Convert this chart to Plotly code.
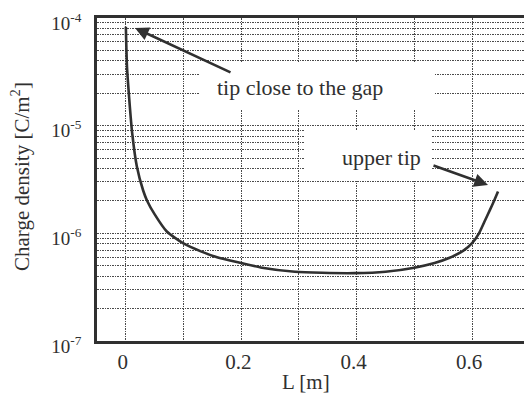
import plotly.graph_objects as go

# Surface charge density along the rod (log scale)
L_m = [0.000, 0.002, 0.006, 0.011, 0.019, 0.030, 0.037, 0.050, 0.071, 0.099,
       0.130, 0.158, 0.200, 0.236, 0.293, 0.340, 0.397, 0.450, 0.500, 0.535,
       0.560, 0.585, 0.600, 0.612, 0.622, 0.631, 0.638, 0.645]
charge = [8.3e-5, 3.5e-5, 1.74e-5, 8.5e-6, 4.2e-6, 2.5e-6, 2.0e-6, 1.5e-6, 1.04e-6, 8.1e-7,
          6.8e-7, 6.0e-7, 5.3e-7, 4.8e-7, 4.4e-7, 4.3e-7, 4.27e-7, 4.4e-7, 4.8e-7, 5.3e-7,
          5.9e-7, 6.9e-7, 8.1e-7, 1.0e-6, 1.3e-6, 1.65e-6, 2.0e-6, 2.45e-6]

x_ticks = [0, 0.2, 0.4, 0.6]
x_ticktext = ["0", "0.2", "0.4", "0.6"]
x_minor = [0.1, 0.3, 0.5]
y_exponents = [-7, -6, -5, -4]

FONT = "Liberation Serif, Times New Roman, serif"
INK = "#303030"
GRID = "#4a4a4a"

W, H = 524, 395
ML, MR, MT, MB = 97, 0, 18, 54
PW, PH = W - ML - MR, H - MT - MB


def px(xp):
    return (xp - ML) / PW


def py(yp):
    return (H - MB - yp) / PH


fig = go.Figure()
fig.add_trace(go.Scatter(
    x=L_m, y=charge, mode="lines",
    line=dict(color=INK, width=2.6, shape="spline", smoothing=0.6),
    showlegend=False, hoverinfo="skip",
))

y_minor = [k * 10.0 ** e for e in y_exponents[:-1] for k in range(2, 10)]

# fine dotted grid
grid_style = dict(gridcolor=GRID, griddash="1.5px,1px", gridwidth=1.4)

fig.update_xaxes(
    range=[-0.05, 0.69], automargin=False,
    tickmode="array", tickvals=x_ticks, ticktext=x_ticktext,
    ticks="", showgrid=True, **grid_style,
    minor=dict(tickmode="array", tickvals=x_minor, showgrid=True, ticks="",
               **grid_style),
    showline=True, linecolor=INK, linewidth=2.5, mirror=True,
    zeroline=False,
    tickfont=dict(family=FONT, size=21, color=INK),
    ticklabelstandoff=0, ticklabelshift=-3,
)
fig.update_yaxes(
    type="log", range=[-7, -3.9999], automargin=False,
    tickmode="array", tickvals=[10.0 ** e for e in y_exponents],
    ticktext=[f"10<sup>{e}</sup>" for e in y_exponents],
    ticks="", showgrid=True, **grid_style,
    minor=dict(tickmode="array", tickvals=y_minor, showgrid=True, ticks="",
               **grid_style),
    showline=True, linecolor=INK, linewidth=2.5, mirror=False,
    zeroline=False,
    tickfont=dict(family=FONT, size=19, color=INK),
    ticklabelstandoff=9, ticklabelshift=5,
    ticklabeloverflow="allow",
)

# White label boxes that mask the grid
for x0, x1, y0, y1 in [(200, 434, 62, 110), (304, 432, 130, 181)]:
    fig.add_shape(type="rect", xref="paper", yref="paper",
                  x0=px(x0), x1=px(x1), y0=py(y1), y1=py(y0),
                  fillcolor="white", line=dict(width=0), layer="above")


def label(xp, yp, text, size, angle=0):
    fig.add_annotation(xref="paper", yref="paper", x=px(xp), y=py(yp),
                       xanchor="center", yanchor="middle",
                       text=text, showarrow=False, textangle=angle,
                       font=dict(family=FONT, size=size, color=INK))


label(300, 88, "tip close to the gap", 22)
label(381, 157, "upper tip", 22)

# Pointer arrows
fig.add_annotation(xref="paper", yref="paper", x=px(135), y=py(28),
                   ax=97, ay=45, text="", showarrow=True,
                   arrowhead=2, arrowsize=1.1, arrowwidth=2.5, arrowcolor=INK)
fig.add_annotation(xref="paper", yref="paper", x=px(488), y=py(185),
                   ax=-56, ay=-20, text="", showarrow=True,
                   arrowhead=2, arrowsize=1.1, arrowwidth=2.5, arrowcolor=INK)

# Axis titles
label(306, 382, "L [m]", 21)
label(20, 177, "Charge density [C/m<sup>2</sup>]", 21, angle=-90)

fig.update_layout(
    width=W, height=H,
    margin=dict(l=ML, r=MR, t=MT, b=MB),
    paper_bgcolor="white", plot_bgcolor="white",
    showlegend=False,
)

fig.write_html("out.html")
